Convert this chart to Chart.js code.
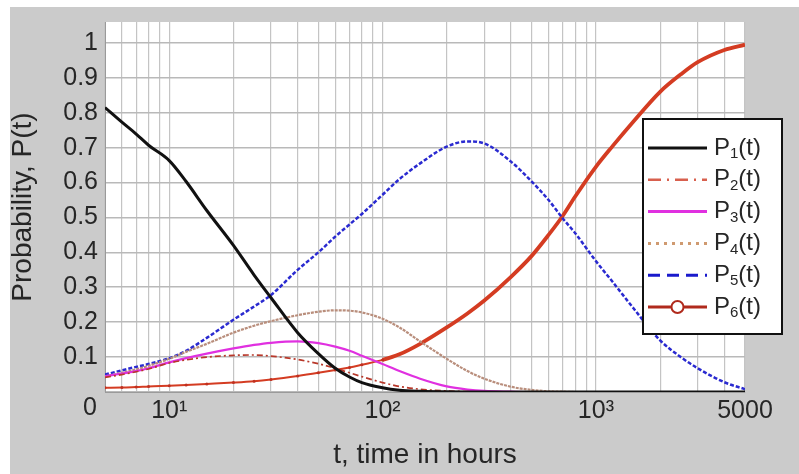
<!DOCTYPE html>
<html>
<head>
<meta charset="utf-8">
<title>Probability P(t)</title>
<script src="https://cdn.jsdelivr.net/npm/chart.js@4"></script>
<style>
    html, body { margin: 0; padding: 0; background: #ffffff; }
    #wrap { width: 799px; height: 474px; position: relative; }
</style>
</head>
<body>
<div id="wrap"><canvas id="probChart"></canvas></div>
<script>
"use strict";

/* ---------- data ---------- */

const hours = [5, 6, 7, 8, 10, 12, 15, 20, 25, 30, 40, 50, 60, 70, 80, 100, 120, 150, 200,
               250, 300, 400, 500, 600, 700, 800, 1000, 1200, 1500, 2000, 2500, 3000, 4000, 5000];

const p1 = [0.815, 0.773, 0.739, 0.707, 0.663, 0.603, 0.520, 0.420, 0.335, 0.270, 0.170, 0.110, 0.068, 0.043, 0.027, 0.012, 0.005, 0.002, 0.0005,
            0, 0, 0, 0, 0, 0, 0, 0, 0, 0, 0, 0, 0, 0, 0];
const p2 = [0.042, 0.050, 0.058, 0.066, 0.083, 0.092, 0.100, 0.105, 0.106, 0.103, 0.093, 0.081, 0.068, 0.055, 0.044, 0.027, 0.016, 0.008, 0.003,
            0.001, 0, 0, 0, 0, 0, 0, 0, 0, 0, 0, 0, 0, 0, 0];
const p3 = [0.045, 0.053, 0.060, 0.068, 0.085, 0.097, 0.110, 0.125, 0.135, 0.141, 0.145, 0.140, 0.130, 0.118, 0.104, 0.080, 0.060, 0.038, 0.016,
            0.007, 0.003, 0.001, 0, 0, 0, 0, 0, 0, 0, 0, 0, 0, 0, 0];
const p4 = [0.045, 0.055, 0.065, 0.075, 0.095, 0.115, 0.138, 0.170, 0.190, 0.203, 0.220, 0.230, 0.234, 0.233, 0.228, 0.210, 0.185, 0.145, 0.095,
            0.060, 0.038, 0.015, 0.006, 0.002, 0.001, 0, 0, 0, 0, 0, 0, 0, 0, 0];
const p5 = [0.050, 0.062, 0.072, 0.080, 0.097, 0.118, 0.155, 0.207, 0.245, 0.278, 0.350, 0.400, 0.445, 0.480, 0.510, 0.565, 0.610, 0.655, 0.703,
            0.718, 0.712, 0.660, 0.603, 0.550, 0.497, 0.455, 0.375, 0.315, 0.240, 0.148, 0.100, 0.068, 0.028, 0.008];
const p6 = [0.012, 0.013, 0.014, 0.016, 0.018, 0.020, 0.023, 0.027, 0.031, 0.036, 0.046, 0.055, 0.063, 0.070, 0.078, 0.092, 0.108, 0.138, 0.185,
            0.225, 0.262, 0.330, 0.390, 0.450, 0.505, 0.560, 0.645, 0.705, 0.775, 0.860, 0.910, 0.945, 0.980, 0.995];

const xLabelValues = [10, 100, 1000, 5000];
const xLabelTexts = ["10\u00B9", "10\u00B2", "10\u00B3", "5000"];
const yTickValues = [0, 0.1, 0.2, 0.3, 0.4, 0.5, 0.6, 0.7, 0.8, 0.9, 1];
const yTickTexts = ["", "0.1", "0.2", "0.3", "0.4", "0.5", "0.6", "0.7", "0.8", "0.9", "1"];
const seriesSubs = ["1", "2", "3", "4", "5", "6"];

/* ---------- helpers ---------- */

const FONT = "'Liberation Sans', Arial, sans-serif";
const TEXT = "#262626";

// grid lines at every 1..9 x 10^n between 5 and 5000
function logGridValues() {
    const vals = [];
    for (let d = 1; d <= 1000; d *= 10) {
        for (let m = 1; m <= 9; m++) {
            const v = m * d;
            if (v >= 5 && v <= 5000) vals.push(v);
        }
    }
    return vals;
}

function toPoints(values) {
    return values.map((v, i) => ({ x: hours[i], y: v }));
}

/* ---------- plugins ---------- */

const backdropPlugin = {
    id: "backdrop",
    beforeDraw(chart) {
        const { ctx, chartArea } = chart;
        ctx.save();
        ctx.fillStyle = "#cbcbcb";
        ctx.fillRect(10, 7, chart.width - 10, chart.height - 7);
        ctx.fillStyle = "#ffffff";
        ctx.fillRect(chartArea.left, chartArea.top,
            chartArea.right - chartArea.left, chartArea.bottom - chartArea.top);
        ctx.restore();
    }
};

const legendBoxPlugin = {
    id: "legendBox",
    afterDraw(chart) {
        const { ctx, chartArea } = chart;
        const left = chartArea.right - 102;
        const top = chartArea.top + 97;
        const w = 139;
        const h = 215;

        ctx.save();
        ctx.fillStyle = "#ffffff";
        ctx.fillRect(left, top, w, h);
        ctx.strokeStyle = "#111111";
        ctx.lineWidth = 2;
        ctx.strokeRect(left, top, w, h);

        chart.data.datasets.forEach((ds, i) => {
            const y = top + 29 + i * 31.8;
            const x0 = left + 5;
            const x1 = left + 64;

            ctx.strokeStyle = ds.legendColor || ds.borderColor;
            ctx.lineWidth = ds.legendWidth || 3;
            ctx.setLineDash(ds.legendDash || []);
            ctx.beginPath();
            ctx.moveTo(x0, y);
            ctx.lineTo(x1, y);
            ctx.stroke();
            ctx.setLineDash([]);

            if (ds.legendMarker) {
                ctx.fillStyle = "#ffffff";
                ctx.lineWidth = 2;
                ctx.beginPath();
                ctx.arc((x0 + x1) / 2, y, 6, 0, Math.PI * 2);
                ctx.fill();
                ctx.stroke();
            }

            // P, subscript, (t)
            ctx.fillStyle = TEXT;
            ctx.textBaseline = "middle";
            ctx.textAlign = "left";
            let tx = left + 71;
            ctx.font = "24px " + FONT;
            ctx.fillText("P", tx, y);
            tx += ctx.measureText("P").width;
            ctx.font = "15px " + FONT;
            ctx.fillText(seriesSubs[i], tx, y + 6);
            tx += ctx.measureText(seriesSubs[i]).width;
            ctx.font = "24px " + FONT;
            ctx.fillText("(t)", tx, y);
        });

        // the lone zero under the y axis
        ctx.font = "25px " + FONT;
        ctx.fillStyle = TEXT;
        ctx.textAlign = "center";
        ctx.textBaseline = "middle";
        ctx.fillText("0", chartArea.left - 15, chartArea.bottom + 16);
        ctx.restore();
    }
};

/* ---------- chart ---------- */

function createProbabilityChart() {
    const canvas = document.getElementById("probChart");
    if (!canvas || typeof Chart === "undefined") return;

    const base = {
        fill: false,
        pointRadius: 0,
        cubicInterpolationMode: "monotone"
    };

    new Chart(canvas, {
        type: "line",
        data: {
            datasets: [
                Object.assign({}, base, {
                    label: "P1(t)", data: toPoints(p1),
                    borderColor: "#111111", borderWidth: 3
                }),
                Object.assign({}, base, {
                    label: "P2(t)", data: toPoints(p2),
                    borderColor: "#b8382a", borderWidth: 1.7,
                    borderDash: [6, 3, 2, 3],
                    legendColor: "#d8604e", legendWidth: 2.5,
                    legendDash: [13, 6, 2, 6]
                }),
                Object.assign({}, base, {
                    label: "P3(t)", data: toPoints(p3),
                    borderColor: "#e030e0", borderWidth: 2.2
                }),
                Object.assign({}, base, {
                    label: "P4(t)", data: toPoints(p4),
                    borderColor: "#b98e7c", borderWidth: 2.2,
                    borderDash: [3, 1],
                    legendColor: "#cf9a70", legendWidth: 3,
                    legendDash: [3, 5]
                }),
                Object.assign({}, base, {
                    label: "P5(t)", data: toPoints(p5),
                    borderColor: "#2a2ad0", borderWidth: 2.5,
                    borderDash: [4, 2],
                    legendColor: "#1a1acc", legendWidth: 3,
                    legendDash: [12, 7]
                }),
                Object.assign({}, base, {
                    label: "P6(t)", data: toPoints(p6),
                    borderColor: "#d43c22", borderWidth: 3.5,
                    segment: {
                        borderWidth: ctx => ctx.p0.parsed.x >= 100 ? 3.8 : 2
                    },
                    pointRadius: ctx => hours[ctx.dataIndex] <= 100 ? 1.5 : 0,
                    pointBackgroundColor: "#c03020",
                    pointBorderWidth: 0,
                    legendColor: "#b02a1c", legendWidth: 3,
                    legendMarker: true
                })
            ]
        },
        options: {
            responsive: true,
            maintainAspectRatio: false,
            animation: false,
            layout: { padding: { left: 0, top: 8, right: 54, bottom: 0 } },
            plugins: {
                legend: { display: false },
                tooltip: { enabled: false }
            },
            scales: {
                x: {
                    type: "logarithmic",
                    min: 5,
                    max: 5000,
                    afterBuildTicks: scale => {
                        scale.ticks = logGridValues().map(v => ({ value: v }));
                    },
                    afterFit: scale => { scale.height = 82; },
                    ticks: {
                        autoSkip: false,
                        maxRotation: 0,
                        padding: 4,
                        color: TEXT,
                        font: { family: FONT, size: 25 },
                        callback: value => {
                            const k = xLabelValues.indexOf(value);
                            return k >= 0 ? xLabelTexts[k] : "";
                        }
                    },
                    grid: { color: "#c4c4c4", lineWidth: 1.2, drawTicks: false },
                    border: { color: "#9a9a9a" },
                    title: {
                        display: true,
                        text: "t, time in hours",
                        color: TEXT,
                        font: { family: FONT, size: 28 },
                        padding: { top: 0, bottom: 2 }
                    }
                },
                y: {
                    type: "linear",
                    min: 0,
                    max: 1.06,
                    afterBuildTicks: scale => {
                        scale.ticks = yTickValues.map(v => ({ value: v }));
                    },
                    afterFit: scale => { scale.width = 105; },
                    ticks: {
                        padding: 7,
                        color: TEXT,
                        font: { family: FONT, size: 25 },
                        callback: (value, index) => yTickTexts[index]
                    },
                    grid: { color: "#b9b9b9", lineWidth: 1.6, drawTicks: false },
                    border: { color: "#9a9a9a" },
                    title: {
                        display: true,
                        text: "Probability, P(t)",
                        color: TEXT,
                        font: { family: FONT, size: 28 },
                        padding: { top: 6, bottom: 0 }
                    }
                }
            }
        },
        plugins: [backdropPlugin, legendBoxPlugin]
    });
}

document.addEventListener("DOMContentLoaded", createProbabilityChart);
</script>
</body>
</html>
